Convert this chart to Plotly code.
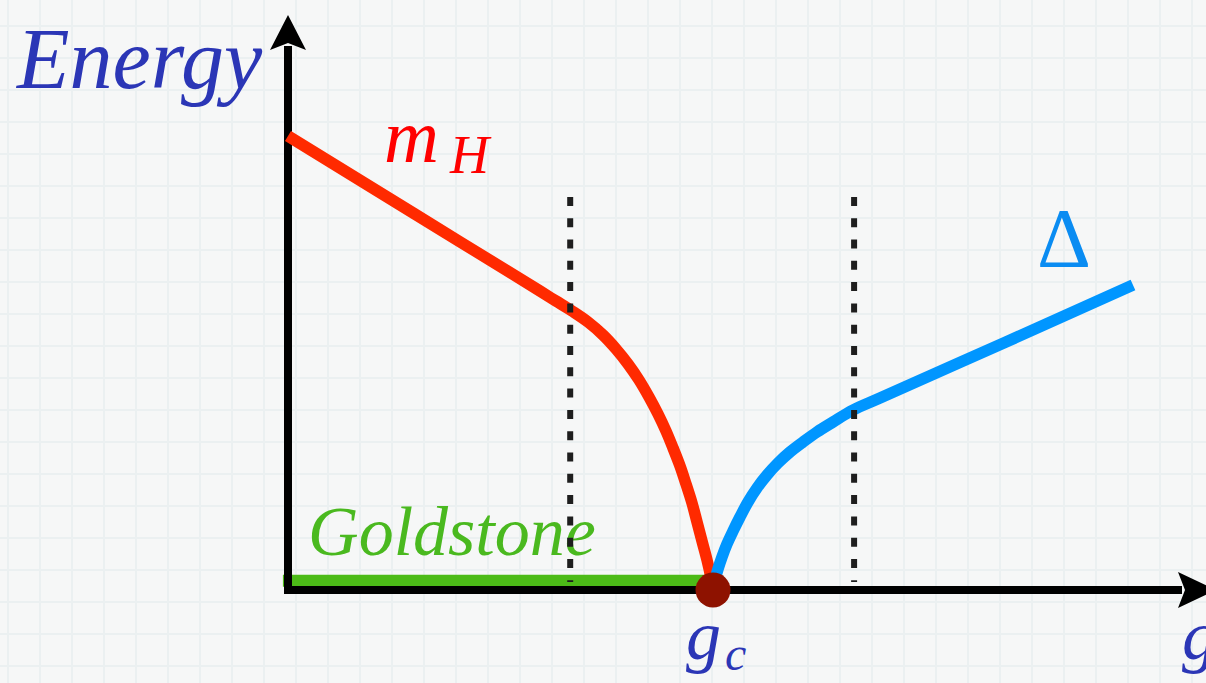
import plotly.graph_objects as go

# ---- data (g in units of g_c, energy in the same units) ----
higgs_g = [0.0, 0.2965, 0.5929, 0.6306, 0.6682, 0.7059, 0.7412, 0.7718, 0.8000, 0.8259,
           0.8494, 0.8706, 0.8894, 0.9059, 0.9224, 0.9365, 0.9506, 0.9624, 0.9741,
           0.9859, 0.9953, 1.0]
higgs_e = [1.0682, 0.8859, 0.7035, 0.6800, 0.6565, 0.6306, 0.6000, 0.5671, 0.5318, 0.4941,
           0.4541, 0.4141, 0.3741, 0.3341, 0.2918, 0.2494, 0.2047, 0.1600, 0.1153,
           0.0706, 0.0282, 0.0]

gap_g = [1.0, 1.0047, 1.0118, 1.0212, 1.0329, 1.0471, 1.0635, 1.0824, 1.1035, 1.1271,
         1.1529, 1.1812, 1.2118, 1.2447, 1.2824, 1.3294, 1.3929, 1.6894, 1.9882]
gap_e = [0.0, 0.0235, 0.0494, 0.0776, 0.1082, 0.1388, 0.1718, 0.2071, 0.2400, 0.2706,
         0.2988, 0.3247, 0.3482, 0.3718, 0.3953, 0.4235, 0.4518, 0.5835, 0.7176]

goldstone_g = [-0.012, 1.0]
goldstone_e = [0.022, 0.022]

g_critical = 1.0
crossover_g = [0.664, 1.332]          # dashed crossover markers
crossover_top = 0.925
crossover_bottom = 0.019

# ---- canvas geometry ----
W, H = 1206, 683
OX, OY = 288, 590          # pixel position of the origin
S = 425.0                  # pixels per unit on both axes


def gx(px):
    return (px - OX) / S


def ey(py):
    return (OY - py) / S


BLUE_TXT = "#2b36b6"
RED = "#ff2a00"
SKY = "#0096ff"
GREEN = "#4cbb17"
FONT = "Liberation Serif"

fig = go.Figure()

# Goldstone mode (gapless)
fig.add_trace(go.Scatter(x=goldstone_g, y=goldstone_e, mode="lines",
                         line=dict(color=GREEN, width=12), hoverinfo="skip"))

# axes
fig.add_trace(go.Scatter(x=[gx(284), gx(1182)], y=[0, 0], mode="lines",
                         line=dict(color="black", width=8), hoverinfo="skip"))
fig.add_trace(go.Scatter(x=[0, 0], y=[ey(594), ey(46)], mode="lines",
                         line=dict(color="black", width=8), hoverinfo="skip"))

# Higgs mass and gap
fig.add_trace(go.Scatter(x=higgs_g, y=higgs_e, mode="lines",
                         line=dict(color=RED, width=11.5, shape="spline", smoothing=1.0),
                         hoverinfo="skip"))
fig.add_trace(go.Scatter(x=gap_g, y=gap_e, mode="lines",
                         line=dict(color=SKY, width=11.5, shape="spline", smoothing=1.0),
                         hoverinfo="skip"))

# Goldstone label (below the dashed lines)
fig.add_trace(go.Scatter(x=[gx(452)], y=[ey(562 - 0.35 * 70)], mode="text",
                         text=["<i>Goldstone</i>"], textposition="middle center",
                         textfont=dict(family=FONT, size=70, color="#4ab91f"),
                         hoverinfo="skip"))

# dashed crossover lines
for xc in crossover_g:
    fig.add_trace(go.Scatter(x=[xc, xc], y=[crossover_top, crossover_bottom], mode="lines",
                             line=dict(color="#1e1e1e", width=6, dash="9px,12.3px"),
                             hoverinfo="skip"))

# critical point
fig.add_trace(go.Scatter(x=[g_critical], y=[0], mode="markers",
                         marker=dict(size=35, color="#8e1200", line=dict(width=0)),
                         hoverinfo="skip"))

# arrowheads
def path(points):
    return "M " + " L ".join(f"{gx(a)},{ey(b)}" for a, b in points) + " Z"


shapes = [
    dict(type="path", path=path([(288, 15), (270, 50), (288, 43), (306, 50)]),
         fillcolor="black", line=dict(width=0), xref="x", yref="y", layer="above"),
    dict(type="path", path=path([(1216, 590), (1178, 572), (1185, 590), (1178, 608)]),
         fillcolor="black", line=dict(width=0), xref="x", yref="y", layer="above"),
]


def label(text, px, baseline, size, color):
    return dict(x=gx(px), y=ey(baseline - 0.35 * size), text=text, showarrow=False,
                xref="x", yref="y", xanchor="center", yanchor="middle",
                font=dict(family=FONT, size=size, color=color))


annotations = [
    label("<i>Energy</i>", 139, 89, 86, BLUE_TXT),
    label("<i>m</i>", 411, 163, 76, "#ff0000"),
    label("<i>H</i>", 470, 174, 54, "#ff0000"),
    label("\u0394", 1064, 268, 84, "#0a8cf2"),
    label("<i>g</i>", 703, 660, 70, BLUE_TXT),
    label("<i>c</i>", 735, 670, 48, BLUE_TXT),
    label("<i>g</i>", 1199, 660, 70, BLUE_TXT),
]

grid = "#ebf0f1"
fig.update_layout(
    width=W, height=H, autosize=False,
    margin=dict(l=0, r=0, t=0, b=0),
    paper_bgcolor="#f6f7f7", plot_bgcolor="#f6f7f7",
    showlegend=False,
    shapes=shapes, annotations=annotations,
    xaxis=dict(range=[gx(0), gx(W)], showticklabels=False, ticks="", zeroline=False,
               showline=False, showgrid=True, gridcolor=grid, gridwidth=1.5,
               tick0=gx(8), dtick=32 / S, fixedrange=True),
    yaxis=dict(range=[ey(H), ey(0)], showticklabels=False, ticks="", zeroline=False,
               showline=False, showgrid=True, gridcolor=grid, gridwidth=1.5,
               tick0=ey(26), dtick=32 / S, fixedrange=True),
)

fig.write_html("out.html", config={"displayModeBar": False})
